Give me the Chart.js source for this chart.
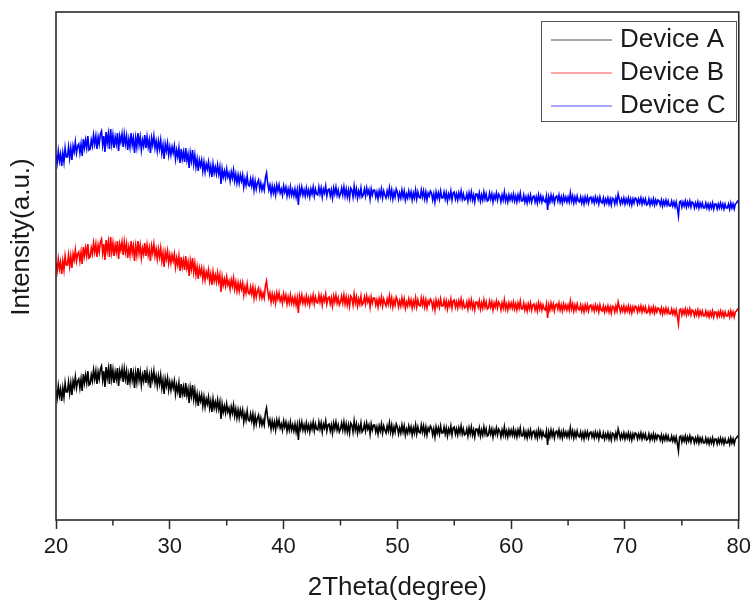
<!DOCTYPE html>
<html>
<head>
<meta charset="utf-8">
<script src="https://cdn.jsdelivr.net/npm/chart.js@4.4.1/dist/chart.umd.min.js"></script>
<style>
  html, body { margin: 0; padding: 0; background: #ffffff; }
  canvas { display: block; }
</style>
</head>
<body>
<canvas id="xrd" width="756" height="603"></canvas>
<script>
// XRD scan: 2-theta from 20 to 80 degrees, sampled every 0.1 degrees
const thetaStart = 20;
const thetaStep = 0.1;
const xTicks = [20, 30, 40, 50, 60, 70, 80];
const xMinorTicks = [25, 35, 45, 55, 65, 75];
const seriesNames = ['Device A', 'Device B', 'Device C'];

// Intensities (a.u.), one row per degree, traces stacked vertically for clarity
const deviceA = [
  130,122,134,124,131,119,132,123,137,128,
  128,138,127,137,125,139,133,143,132,139,
  141,132,141,129,146,137,145,137,149,135,
  136,145,139,150,141,149,136,148,141,151,
  154,140,149,133,153,142,151,136,156,141,
  150,137,148,141,152,134,149,143,151,138,
  151,141,149,135,146,138,152,140,147,132,
  147,138,152,140,148,135,145,139,150,137,
  148,138,145,132,147,140,149,137,144,134,
  144,136,145,132,140,126,141,134,142,130,
  138,130,138,132,139,126,135,128,137,122,
  136,126,133,123,137,125,131,117,132,124,
  135,121,130,118,126,114,125,119,125,114,
  123,113,121,116,123,112,119,108,121,112,
  118,111,120,111,118,101,116,108,114,107,
  116,108,112,104,113,107,115,104,111,102,
  110,102,110,104,110,98,106,100,109,100,
  99,106,99,106,95,104,96,102,105,96,
  102,95,100,95,107,112,102,95,100,91,
  99,92,98,90,100,94,100,92,96,90,
  99,93,98,89,96,90,98,90,95,89,
  96,88,95,80,97,91,98,90,95,89,
  97,90,95,88,96,91,98,89,96,91,
  90,98,91,97,88,96,92,99,89,95,
  96,89,95,87,97,91,98,90,95,88,
  91,97,90,98,89,96,88,95,87,97,
  95,88,99,90,96,87,94,89,97,88,
  90,96,89,97,91,95,86,96,90,95,
  95,88,93,86,94,89,96,87,94,90,
  87,94,89,97,88,95,86,93,88,96,
  93,86,92,87,95,88,94,85,91,87,
  94,88,93,85,92,87,95,86,93,88,
  87,95,88,94,86,93,85,92,89,94,
  92,85,91,83,93,87,92,86,94,87,
  87,93,86,92,84,91,87,94,85,92,
  93,86,91,85,92,87,94,86,91,85,
  86,91,84,92,86,93,85,90,83,91,
  91,86,92,84,90,85,93,86,91,84,
  85,92,86,91,83,90,86,92,85,91,
  89,83,90,85,93,84,89,83,90,85,
  90,85,91,84,89,83,90,85,92,84,
  84,90,83,88,82,89,84,90,83,88,
  89,83,88,82,90,84,89,83,88,84,
  83,89,75,88,83,90,84,89,82,88,
  89,84,90,83,88,82,89,84,88,83,
  88,83,92,84,89,82,88,83,89,84,
  83,88,82,87,81,88,83,88,82,87,
  88,83,87,82,88,83,87,81,88,83,
  82,87,81,86,82,87,81,86,80,87,
  86,81,87,82,91,86,81,86,82,87,
  81,86,82,87,81,86,80,86,82,87,
  86,81,86,82,87,81,86,82,86,80,
  81,86,80,85,81,86,80,85,81,85,
  84,80,85,79,84,80,85,80,84,79,
  79,84,79,83,78,83,77,69,83,84,
  78,83,79,84,78,83,79,84,78,83,
  82,77,82,78,83,77,82,78,82,77,
  77,82,77,81,76,81,77,82,76,81,
  81,76,81,77,82,77,81,76,81,77,
  77,81,76,82,77,81,76,81,82,84,
  84
];
const deviceB = [
  257,249,261,251,258,246,259,250,264,255,
  255,265,254,264,252,266,260,270,259,266,
  268,259,268,256,273,264,272,264,276,262,
  263,272,266,277,268,276,263,275,268,278,
  281,267,276,260,280,269,278,263,283,268,
  277,264,275,268,279,261,276,270,278,265,
  278,268,276,262,273,265,279,267,274,259,
  274,265,279,267,275,262,272,266,277,264,
  275,265,272,259,274,267,276,264,271,261,
  271,263,272,259,267,253,268,261,269,257,
  265,257,265,259,266,253,262,255,264,249,
  263,253,260,250,264,252,258,244,259,251,
  262,248,257,245,253,241,252,246,252,241,
  250,240,248,243,250,239,246,235,248,239,
  245,238,247,238,245,228,243,235,241,234,
  243,235,239,231,240,234,242,231,238,229,
  237,229,237,231,237,225,233,227,236,227,
  226,233,226,233,222,231,223,229,232,223,
  229,222,227,222,234,239,229,222,227,218,
  226,219,225,217,227,221,227,219,223,217,
  226,220,225,216,223,217,225,217,222,216,
  223,215,222,207,224,218,225,217,222,216,
  224,217,222,215,223,218,225,216,223,218,
  217,225,218,224,215,223,219,226,216,222,
  223,216,222,214,224,218,225,217,222,215,
  218,224,217,225,216,223,215,222,214,224,
  222,215,226,217,223,214,221,216,224,215,
  217,223,216,224,218,222,213,223,217,222,
  222,215,220,213,221,216,223,214,221,217,
  214,221,216,224,215,222,213,220,215,223,
  220,213,219,214,222,215,221,212,218,214,
  221,215,220,212,219,214,222,213,220,215,
  214,222,215,221,213,220,212,219,216,221,
  219,212,218,210,220,214,219,213,221,214,
  214,220,213,219,211,218,214,221,212,219,
  220,213,218,212,219,214,221,213,218,212,
  213,218,211,219,213,220,212,217,210,218,
  218,213,219,211,217,212,220,213,218,211,
  212,219,213,218,210,217,213,219,212,218,
  216,210,217,212,220,211,216,210,217,212,
  217,212,218,211,216,210,217,212,219,211,
  211,217,210,215,209,216,211,217,210,215,
  216,210,215,209,217,211,216,210,215,211,
  210,216,202,215,210,217,211,216,209,215,
  216,211,217,210,215,209,216,211,215,210,
  215,210,219,211,216,209,215,210,216,211,
  210,215,209,214,208,215,210,215,209,214,
  215,210,214,209,215,210,214,208,215,210,
  209,214,208,213,209,214,208,213,207,214,
  213,208,214,209,218,213,208,213,209,214,
  208,213,209,214,208,213,207,213,209,214,
  213,208,213,209,214,208,213,209,213,207,
  208,213,207,212,208,213,207,212,208,212,
  211,207,212,206,211,207,212,207,211,206,
  206,211,206,210,205,210,204,196,210,211,
  205,210,206,211,205,210,206,211,205,210,
  209,204,209,205,210,204,209,205,209,204,
  204,209,204,208,203,208,204,209,203,208,
  208,203,208,204,209,204,208,203,208,204,
  204,208,203,209,204,208,203,208,209,211,
  211
];
const deviceC = [
  365,357,369,359,366,354,367,358,372,363,
  363,373,362,372,360,374,368,378,367,374,
  376,367,376,364,381,372,380,372,384,370,
  371,380,374,385,376,384,371,383,376,386,
  389,375,384,368,388,377,386,371,391,376,
  385,372,383,376,387,369,384,378,386,373,
  386,376,384,370,381,373,387,375,382,367,
  382,373,387,375,383,370,380,374,385,372,
  383,373,380,367,382,375,384,372,379,369,
  379,371,380,367,375,361,376,369,377,365,
  373,365,373,367,374,361,370,363,372,357,
  371,361,368,358,372,360,366,352,367,359,
  370,356,365,353,361,349,360,354,360,349,
  358,348,356,351,358,347,354,343,356,347,
  353,346,355,346,353,336,351,343,349,342,
  351,343,347,339,348,342,350,339,346,337,
  345,337,345,339,345,333,341,335,344,335,
  334,341,334,341,330,339,331,337,340,331,
  337,330,335,330,342,347,337,330,335,326,
  334,327,333,325,335,329,335,327,331,325,
  334,328,333,324,331,325,333,325,330,324,
  331,323,330,315,332,326,333,325,330,324,
  332,325,330,323,331,326,333,324,331,326,
  325,333,326,332,323,331,327,334,324,330,
  331,324,330,322,332,326,333,325,330,323,
  326,332,325,333,324,331,323,330,322,332,
  330,323,334,325,331,322,329,324,332,323,
  325,331,324,332,326,330,321,331,325,330,
  330,323,328,321,329,324,331,322,329,325,
  322,329,324,332,323,330,321,328,323,331,
  328,321,327,322,330,323,329,320,326,322,
  329,323,328,320,327,322,330,321,328,323,
  322,330,323,329,321,328,320,327,324,329,
  327,320,326,318,328,322,327,321,329,322,
  322,328,321,327,319,326,322,329,320,327,
  328,321,326,320,327,322,329,321,326,320,
  321,326,319,327,321,328,320,325,318,326,
  326,321,327,319,325,320,328,321,326,319,
  320,327,321,326,318,325,321,327,320,326,
  324,318,325,320,328,319,324,318,325,320,
  325,320,326,319,324,318,325,320,327,319,
  319,325,318,323,317,324,319,325,318,323,
  324,318,323,317,325,319,324,318,323,319,
  318,324,310,323,318,325,319,324,317,323,
  324,319,325,318,323,317,324,319,323,318,
  323,318,327,319,324,317,323,318,324,319,
  318,323,317,322,316,323,318,323,317,322,
  323,318,322,317,323,318,322,316,323,318,
  317,322,316,321,317,322,316,321,315,322,
  321,316,322,317,326,321,316,321,317,322,
  316,321,317,322,316,321,315,321,317,322,
  321,316,321,317,322,316,321,317,321,315,
  316,321,315,320,316,321,315,320,316,320,
  319,315,320,314,319,315,320,315,319,314,
  314,319,314,318,313,318,312,304,318,319,
  313,318,314,319,313,318,314,319,313,318,
  317,312,317,313,318,312,317,313,317,312,
  312,317,312,316,311,316,312,317,311,316,
  316,311,316,312,317,312,316,311,316,312,
  312,316,311,317,312,316,311,316,317,319,
  319
];

const lineColors = ['#000000', '#ff0000', '#0000ff'];
const legendColors = ['#8a8a8a', '#ff8a8a', '#8a8aff'];
const FONT = "'Liberation Sans', Arial, Helvetica, sans-serif";
const TEXT = '#1a1a1a';

function toPoints(values) {
  return values.map((v, i) => ({ x: +(thetaStart + i * thetaStep).toFixed(2), y: v }));
}

// Frame, minor ticks, rotated y title and boxed legend
const decorations = {
  id: 'decorations',
  afterDraw(chart) {
    const { ctx, chartArea: a, scales } = chart;
    const x = scales.x;
    ctx.save();
    ctx.strokeStyle = '#2a2a2a';
    ctx.lineWidth = 1.6;
    ctx.strokeRect(a.left, a.top, a.right - a.left, a.bottom - a.top);

    ctx.lineWidth = 1.5;
    ctx.beginPath();
    xMinorTicks.forEach(t => {
      const px = x.getPixelForValue(t);
      ctx.moveTo(px, a.bottom);
      ctx.lineTo(px, a.bottom + 5.5);
    });
    ctx.stroke();

    ctx.fillStyle = TEXT;
    ctx.font = '26px ' + FONT;
    ctx.textAlign = 'center';
    ctx.textBaseline = 'middle';
    ctx.translate(22, 237);
    ctx.rotate(-Math.PI / 2);
    ctx.fillText('Intensity(a.u.)', 0, 0);
    ctx.restore();

    ctx.save();
    ctx.strokeStyle = '#555555';
    ctx.lineWidth = 1;
    ctx.strokeRect(541.5, 21.5, 195, 100);
    const rows = [40, 73, 106];
    ctx.font = '26px ' + FONT;
    ctx.textAlign = 'left';
    ctx.textBaseline = 'middle';
    seriesNames.forEach((name, i) => {
      ctx.strokeStyle = legendColors[i];
      ctx.lineWidth = 1.6;
      ctx.beginPath();
      ctx.moveTo(551, rows[i]);
      ctx.lineTo(612, rows[i]);
      ctx.stroke();
      ctx.fillStyle = TEXT;
      ctx.fillText(name, 620, rows[i]);
    });
    ctx.restore();
  }
};

new Chart(document.getElementById('xrd'), {
  type: 'line',
  data: {
    datasets: [deviceA, deviceB, deviceC].map((vals, i) => ({
      label: seriesNames[i],
      data: toPoints(vals),
      borderColor: lineColors[i],
      borderWidth: 1.6,
      pointRadius: 0,
      tension: 0,
      fill: false
    }))
  },
  options: {
    responsive: false,
    devicePixelRatio: 1,
    animation: false,
    events: [],
    layout: { padding: { top: 12, right: 13, left: 0, bottom: 0 } },
    plugins: { legend: { display: false }, tooltip: { enabled: false } },
    scales: {
      x: {
        type: 'linear',
        min: 20,
        max: 80,
        afterBuildTicks(scale) { scale.ticks = xTicks.map(v => ({ value: v })); },
        afterFit(scale) { scale.height = 83; },
        ticks: {
          autoSkip: false,
          maxRotation: 0,
          padding: 5,
          color: TEXT,
          font: { family: FONT, size: 22 },
          callback: v => String(v)
        },
        grid: {
          display: true,
          drawOnChartArea: false,
          drawTicks: true,
          tickLength: 9,
          tickWidth: 1.5,
          tickColor: '#2a2a2a'
        },
        border: { display: false },
        title: {
          display: true,
          text: '2Theta(degree)',
          color: TEXT,
          font: { family: FONT, size: 26, lineHeight: 1.15 },
          padding: { top: 0, bottom: 0 }
        }
      },
      y: {
        type: 'linear',
        min: 0,
        max: 508,
        afterFit(scale) { scale.width = 56; },
        ticks: { display: false },
        grid: { display: false },
        border: { display: false },
        title: { display: false }
      }
    }
  },
  plugins: [decorations]
});
</script>
</body>
</html>
